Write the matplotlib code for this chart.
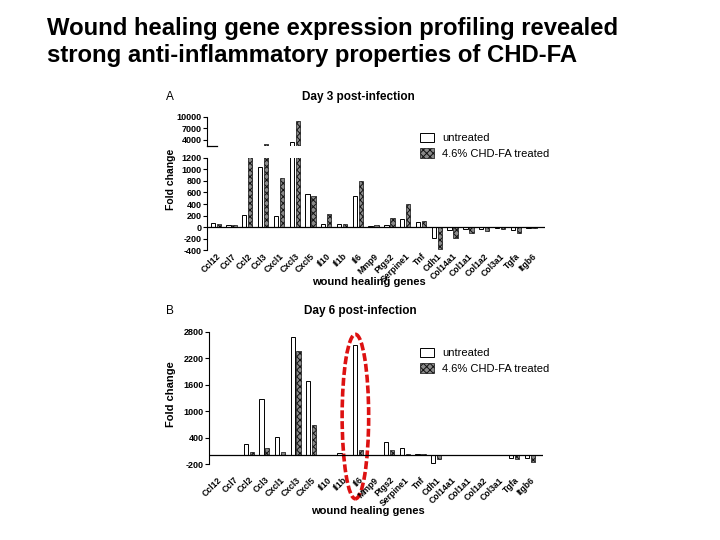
import matplotlib
matplotlib.use("Agg")
import matplotlib.pyplot as plt
import numpy as np
from matplotlib.patches import Patch, Ellipse
from matplotlib.transforms import blended_transform_factory

plt.rcParams['font.family'] = ['Liberation Sans', 'DejaVu Sans']
plt.rcParams['hatch.linewidth'] = 0.7

genes = ["Ccl12", "Ccl7", "Ccl2", "Ccl3", "Cxcl1", "Cxcl3", "Cxcl5", "Il10", "Il1b", "Il6",
         "Mmp9", "Ptgs2", "Serpine1", "Tnf", "Cdh1", "Col14a1", "Col1a1", "Col1a2",
         "Col3a1", "Tgfa", "Itgb6"]

day3_untreated = [70, 45, 210, 1040, 185, 3300, 575, 55, 50, 540,
                  20, 40, 145, 90, -190, -55, -40, -25, -20, -50, -8]
day3_treated = [50, 35, 1210, 2800, 855, 8900, 540, 230, 50, 790,
                35, 160, 400, 100, -380, -195, -100, -60, -25, -100, -15]

day6_untreated = [20, 15, 255, 1280, 428, 2680, 1688, 20, 45, 2490,
                  15, 308, 173, 25, -180, 0, 0, 0, 0, -60, -60]
day6_treated = [20, 20, 68, 180, 68, 2370, 698, 20, 10, 113,
                15, 113, 22, 25, -75, 0, 0, 0, 0, -75, -143]

title_text = "Wound healing gene expression profiling revealed\nstrong anti-inflammatory properties of CHD-FA"

fig = plt.figure(figsize=(7.2, 5.4), dpi=100)
W, H = 720.0, 540.0

def fx(px):
    return px / W

def fy(py):
    return 1 - py / H

fig.text(fx(47), fy(17), title_text, fontsize=17.2, fontweight='bold', va='top', ha='left',
         linespacing=1.2)

x = np.arange(len(genes))
bw = 0.27
off = 0.19
u_kw = dict(width=bw, facecolor='white', edgecolor='black', linewidth=0.7)
t_kw = dict(width=bw, facecolor='#8a8a8a', edgecolor='#111111', linewidth=0.5, hatch='xxxxx')

tick_fs = 6.5
xl = (-0.55, 20.85)

def style_common(ax):
    ax.spines['right'].set_visible(False)
    ax.tick_params(axis='y', labelsize=tick_fs, length=3, width=0.8, pad=1)
    ax.set_xlim(*xl)

def xticks_bottom(ax, pad):
    ax.set_xticks(x)
    ax.set_xticklabels(genes, rotation=45, ha='right', rotation_mode='anchor',
                       fontsize=6.2, fontweight='bold')
    ax.tick_params(axis='x', length=0, pad=pad)
    ax.spines['bottom'].set_visible(False)
    ax.axhline(0, color='black', lw=0.9)

def legend_at(left_px, top_px):
    handles = [Patch(facecolor='white', edgecolor='black', linewidth=0.7),
               Patch(facecolor='#8a8a8a', edgecolor='#111111', linewidth=0.5, hatch='xxxxx')]
    fig.legend(handles, ["untreated", "4.6% CHD-FA treated"], loc='upper left',
               bbox_to_anchor=(fx(left_px), fy(top_px)), frameon=False, fontsize=8,
               handlelength=1.3, handleheight=0.9, handletextpad=0.7, labelspacing=0.45,
               borderaxespad=0, borderpad=0)

# ---------------- Panel A ----------------
L, R = 207, 545
axU = fig.add_axes([fx(L), fy(146), fx(R) - fx(L), fy(116.7) - fy(146)])
axA = fig.add_axes([fx(L), fy(250.3), fx(R) - fx(L), fy(157.7) - fy(250.3)])

for ax in (axU, axA):
    ax.bar(x - off, day3_untreated, **u_kw)
    ax.bar(x + off, day3_treated, **t_kw)
    style_common(ax)

axU.set_ylim(2350, 10000)
axU.set_yticks([4000, 7000, 10000])
axU.set_yticklabels(["4000", "7000", "10000"], fontsize=tick_fs, fontweight='bold')
axU.spines['top'].set_visible(False)
axU.spines['bottom'].set_visible(False)
axU.set_xticks([])
axU.plot([0, 0.03], [0, 0], transform=axU.transAxes, color='black', lw=0.9, clip_on=False)

axA.set_ylim(-400, 1200)
axA.set_yticks(np.arange(-400, 1201, 200))
axA.set_yticklabels([str(v) for v in range(-400, 1201, 200)], fontsize=tick_fs, fontweight='bold')
axA.spines['top'].set_visible(False)
xticks_bottom(axA, 1)

fig.text(fx(369), fy(282), "wound healing genes", fontsize=8, fontweight='bold',
         ha='center', va='center')
fig.text(fx(171), fy(179), "Fold change", rotation=90, fontsize=7.5, fontweight='bold',
         ha='center', va='center')
fig.text(fx(358), fy(97), "Day 3 post-infection", fontsize=8.5, fontweight='bold',
         ha='center', va='center')
fig.text(fx(166), fy(97), "A", fontsize=8.5, ha='left', va='center')
legend_at(420, 133)

# ---------------- Panel B ----------------
L2, R2 = 209, 543
axB = fig.add_axes([fx(L2), fy(464.3), fx(R2) - fx(L2), fy(331.7) - fy(464.3)])
axB.bar(x - off, day6_untreated, **u_kw)
axB.bar(x + off, day6_treated, **t_kw)
style_common(axB)
axB.set_ylim(-200, 2800)
axB.set_yticks(np.arange(-200, 2801, 600))
axB.set_yticklabels([str(v) for v in range(-200, 2801, 600)], fontsize=tick_fs, fontweight='bold')
axB.spines['top'].set_visible(False)
xticks_bottom(axB, 8)

fig.text(fx(368), fy(511), "wound healing genes", fontsize=8, fontweight='bold',
         ha='center', va='center')
fig.text(fx(171), fy(394), "Fold change", rotation=90, fontsize=8, fontweight='bold',
         ha='center', va='center')
fig.text(fx(360), fy(311), "Day 6 post-infection", fontsize=8.5, fontweight='bold',
         ha='center', va='center')
fig.text(fx(166), fy(311), "B", fontsize=8.5, ha='left', va='center')
legend_at(420, 348)

# red dashed ellipse highlighting Il6
tr = blended_transform_factory(axB.transData, axB.transAxes)
ell = Ellipse((genes.index("Il6") - 0.17, 0.36), width=1.7, height=1.24, transform=tr,
              fill=False, edgecolor='#dd1111', lw=2.6, linestyle=(0, (2.2, 0.8)), clip_on=False)
axB.add_patch(ell)

fig.savefig("out.png", dpi=100)
